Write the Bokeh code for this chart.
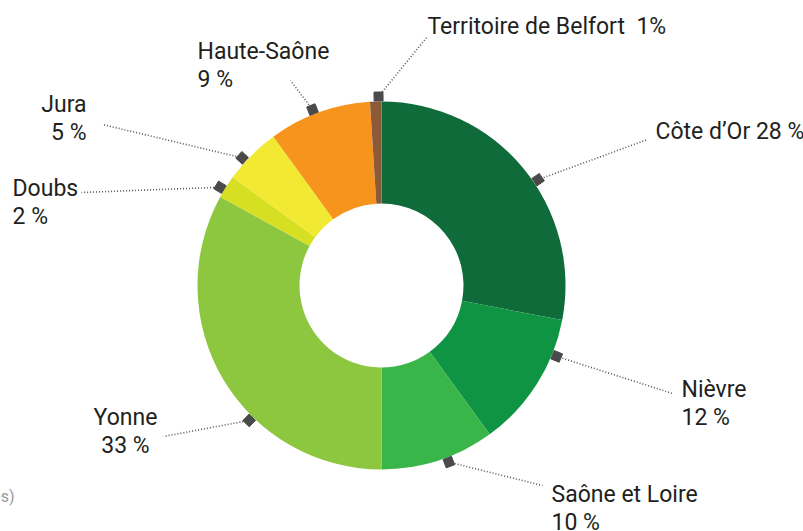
import numpy as np
from bokeh.plotting import figure
from bokeh.models import Range1d
from bokeh.core.properties import value
from bokeh.embed import file_html
from bokeh.resources import INLINE

# ---- data ----
categories = ["Côte d’Or", "Nièvre", "Saône et Loire", "Yonne", "Doubs",
              "Jura", "Haute-Saône", "Territoire de Belfort"]
values = [28, 12, 10, 33, 2, 5, 9, 1]
pct_labels = ["28 %", "12 %", "10 %", "33 %", "2 %", "5 %", "9 %", "1%"]
colors = ["#0f6b3a", "#0f9444", "#39b54a", "#8dc63f", "#d7df23",
          "#f2e933", "#f7941e", "#8c5a36"]

# ---- layout (picture pixel coordinates) ----
single_line = [True, False, False, False, False, False, False, True]
label_x = [655, 681, 551, 125, 12, 86, 197, 427]
label_y = [131, 389, 494, 417, 188, 104, 51, 26]
label_align = ["left", "left", "left", "center", "left", "right", "left", "left"]
line_end_x = [647, 672, 542, 163, 81, 102, 290, 427]
line_end_y = [139, 393, 485, 436, 192, 124, 80, 36]
anchor_frac = [0.555, 0.26, 0.42, 0.374, 0.35, 0.36, 0.45, 0.75]

W, H = 803, 531
OX, OY = 0, 0


def px(x):
    return np.asarray(x, dtype=float) - OX


def py(y):
    return H - (np.asarray(y, dtype=float) - OY)


cx, cy = float(px(381)), float(py(285))
r_out, r_in, r_mark = 184, 82, 189

p = figure(width=W, height=H, x_range=Range1d(0, W), y_range=Range1d(0, H),
           output_backend="svg", toolbar_location=None, min_border=0,
           x_axis_type=None, y_axis_type=None)
p.grid.visible = False
p.outline_line_color = None
p.background_fill_color = "white"

vals = np.array(values, dtype=float)
frac = vals / vals.sum()
cum_end = np.cumsum(frac)
cum_start = cum_end - frac
start_angle = np.pi / 2 - 2 * np.pi * cum_start
end_angle = np.pi / 2 - 2 * np.pi * cum_end

p.annular_wedge(x=cx, y=cy, inner_radius=r_in, outer_radius=r_out,
                start_angle=start_angle, end_angle=end_angle,
                direction="clock", fill_color=colors, line_color=None)

theta = 2 * np.pi * (cum_start + np.array(anchor_frac) * frac)
mx = cx + r_mark * np.sin(theta)
my = cy + r_mark * np.cos(theta)

p.segment(x0=mx, y0=my, x1=px(line_end_x), y1=py(line_end_y),
          line_color="#555555", line_width=1.6, line_dash="1 2")
p.scatter(x=mx, y=my, marker="square", size=9, angle=-theta,
          fill_color="#4a4a4a", line_color="#4a4a4a")

font = value("Roboto")
fs = "23px"
tcol = "#231f20"
for i, name in enumerate(categories):
    if single_line[i]:
        sep = " \u00a0" if i == 7 else " "
        lines = [name + sep + pct_labels[i]]
    else:
        lines = [name, pct_labels[i]]
    for k, t in enumerate(lines):
        p.text(x=[float(px(label_x[i]))], y=[float(py(label_y[i] + 28 * k))],
               text=[t], text_font=font, text_font_size=fs,
               text_color=tcol, text_align=label_align[i],
               text_baseline="middle")

p.text(x=[float(px(14))], y=[float(py(496))], text=["es)"],
       text_font=font, text_font_size="16px", text_color="#9a9a9a",
       text_align="right", text_baseline="middle")

open("out.html", "w").write(file_html(p, INLINE))
